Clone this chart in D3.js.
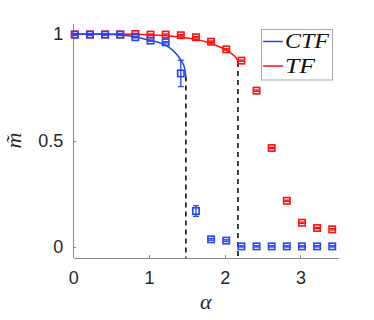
<!DOCTYPE html>
<html lang="en">
  <head>
    <meta charset="UTF-8" />
    <title>m tilde vs alpha</title>
    <script src="https://d3js.org/d3.v7.min.js"></script>
  </head>
  <style>
    html,
    body {
      margin: 0;
      padding: 0;
      background: #fff;
    }
    .axis path,
    .axis line {
      stroke: #8a8a8a;
      shape-rendering: crispEdges;
    }
    .axis text {
      font-family: "Liberation Sans", Arial, sans-serif;
      font-size: 18px;
      fill: #262626;
    }
  </style>
  <body>
    <script>
      // simulation points
      var alpha = [0.02, 0.22, 0.42, 0.62, 0.82, 1.02, 1.22, 1.42, 1.62, 1.82, 2.02, 2.22, 2.42, 2.62, 2.82, 3.02, 3.22, 3.42];
      var ctfM = [0.997, 0.997, 0.997, 0.997, 0.985, 0.969, 0.961, 0.815, 0.169, 0.036, 0.03, 0.003, 0.003, 0.003, 0.003, 0.003, 0.003, 0.003];
      var ctfErr = [0.003, 0.003, 0.003, 0.003, 0.003, 0.003, 0.003, 0.062, 0.025, 0.004, 0.004, 0.003, 0.003, 0.003, 0.003, 0.003, 0.003, 0.003];
      var tfM = [0.998, 0.998, 0.998, 0.998, 1.0, 0.997, 0.997, 0.994, 0.985, 0.964, 0.928, 0.875, 0.734, 0.465, 0.217, 0.114, 0.089, 0.083];
      var tfErr = [0.003, 0.003, 0.003, 0.003, 0.003, 0.003, 0.003, 0.003, 0.003, 0.003, 0.003, 0.003, 0.003, 0.003, 0.003, 0.003, 0.003, 0.003];

      // theory curves
      var ctfCurveA = [0, 0.4, 0.6, 0.8, 0.9, 1.0, 1.15, 1.28, 1.37, 1.43, 1.47, 1.487];
      var ctfCurveM = [1.0, 0.999, 0.997, 0.988, 0.98, 0.971, 0.958, 0.934, 0.903, 0.872, 0.84, 0.8];
      var tfCurveA = [0, 0.4, 0.8, 1.0, 1.2, 1.4, 1.6, 1.8, 2.0, 2.1, 2.15, 2.175];
      var tfCurveM = [1.0, 1.0, 0.999, 0.997, 0.993, 0.986, 0.976, 0.958, 0.928, 0.905, 0.888, 0.868];

      // critical points (dashed lines)
      var critA = [1.487, 2.175];
      var critM = [0.8, 0.868];

      var xTicks = [0, 1, 2, 3];
      var yTicks = [0, 0.5, 1];
      var names = ["CTF", "TF"];
      var colors = ["#2444ff", "#ff1010"];

      var width = 374, height = 320;
      var svg = d3.select("body").append("svg")
        .attr("width", width)
        .attr("height", height);

      var x = d3.scaleLinear().domain([0, 3.5]).range([73.3, 338.3]);
      var y = d3.scaleLinear().domain([-0.05, 1.05]).range([257.65, 23.35]);

      // axes
      svg.append("g")
        .attr("class", "axis")
        .attr("transform", "translate(0," + y(-0.05) + ")")
        .call(d3.axisBottom(x).tickValues(xTicks).tickSize(-3).tickSizeOuter(0).tickPadding(14).tickFormat(d3.format("")));

      svg.append("g")
        .attr("class", "axis")
        .attr("transform", "translate(" + x(0) + ",0)")
        .call(d3.axisLeft(y).tickValues(yTicks).tickSize(-3).tickSizeOuter(0).tickPadding(10).tickFormat(d3.format("")));

      svg.selectAll(".axis .domain").attr("stroke-width", 1);

      var line = d3.line()
        .x(function (d) { return x(d[0]); })
        .y(function (d) { return y(d[1]); })
        .curve(d3.curveMonotoneX);

      var curves = [d3.zip(ctfCurveA, ctfCurveM), d3.zip(tfCurveA, tfCurveM)];

      // dashed vertical lines
      svg.selectAll(".crit")
        .data(d3.zip(critA, critM))
        .enter()
        .append("line")
        .attr("x1", function (d) { return x(d[0]); })
        .attr("x2", function (d) { return x(d[0]); })
        .attr("y1", function (d) { return y(d[1]); })
        .attr("y2", y(-0.05))
        .attr("stroke", "#111")
        .attr("stroke-width", 1.6)
        .attr("stroke-dasharray", "5,4");

      function drawSeries(k, vals, errs) {
        var g = svg.append("g");
        g.append("path")
          .datum(curves[k])
          .attr("d", line)
          .attr("fill", "none")
          .attr("stroke", colors[k])
          .attr("stroke-width", 1.5);

        var pts = d3.range(alpha.length).map(function (i) {
          return { a: alpha[i], m: vals[i], e: errs[i] };
        });

        var eb = g.selectAll(".eb").data(pts).enter().append("g")
          .attr("stroke", colors[k])
          .attr("stroke-width", 1.3)
          .attr("fill", "none");
        eb.append("line")
          .attr("x1", function (d) { return x(d.a); })
          .attr("x2", function (d) { return x(d.a); })
          .attr("y1", function (d) { return y(d.m - d.e); })
          .attr("y2", function (d) { return y(d.m + d.e); });
        [-1, 1].forEach(function (s) {
          eb.append("line")
            .attr("x1", function (d) { return x(d.a) - 3; })
            .attr("x2", function (d) { return x(d.a) + 3; })
            .attr("y1", function (d) { return y(d.m + s * d.e); })
            .attr("y2", function (d) { return y(d.m + s * d.e); });
        });
        eb.append("rect")
          .attr("x", function (d) { return x(d.a) - 3.2; })
          .attr("y", function (d) { return y(d.m) - 3.2; })
          .attr("width", 6.4)
          .attr("height", 6.4)
          .attr("stroke-width", 1.6);
      }

      drawSeries(1, tfM, tfErr);
      drawSeries(0, ctfM, ctfErr);

      // axis labels
      svg.append("text")
        .attr("x", (x(0) + x(3.5)) / 2)
        .attr("y", 309)
        .attr("text-anchor", "middle")
        .attr("font-family", "'Liberation Serif', serif")
        .attr("font-style", "italic")
        .attr("font-size", 22)
        .attr("fill", "#262626")
        .text("α");

      svg.append("text")
        .attr("transform", "translate(21," + y(0.5) + ") rotate(-90)")
        .attr("text-anchor", "middle")
        .attr("font-family", "'Liberation Serif', serif")
        .attr("font-style", "italic")
        .attr("font-size", 22)
        .attr("fill", "#262626")
        .text("m\u0303");

      // legend
      var leg = svg.append("g");
      leg.append("rect")
        .attr("x", 261.5)
        .attr("y", 29.5)
        .attr("width", 71)
        .attr("height", 50.5)
        .attr("fill", "#fff")
        .attr("stroke", "#a8a8a8")
        .attr("stroke-width", 1);

      var item = leg.selectAll(".item")
        .data(names)
        .enter()
        .append("g")
        .attr("transform", function (d, i) { return "translate(0," + (41.5 + i * 24.5) + ")"; });
      item.append("line")
        .attr("x1", 263)
        .attr("x2", 283)
        .attr("stroke", function (d, i) { return colors[i]; })
        .attr("stroke-width", 1.5);
      item.append("text")
        .attr("x", 285)
        .attr("y", 6.5)
        .attr("font-family", "'Liberation Serif', serif")
        .attr("font-style", "italic")
        .attr("font-size", 20)
        .attr("fill", "#111")
        .attr("textLength", function (d) { return d.length === 3 ? 44 : 30; })
        .attr("lengthAdjust", "spacingAndGlyphs")
        .text(function (d) { return d; });
    </script>
  </body>
</html>
